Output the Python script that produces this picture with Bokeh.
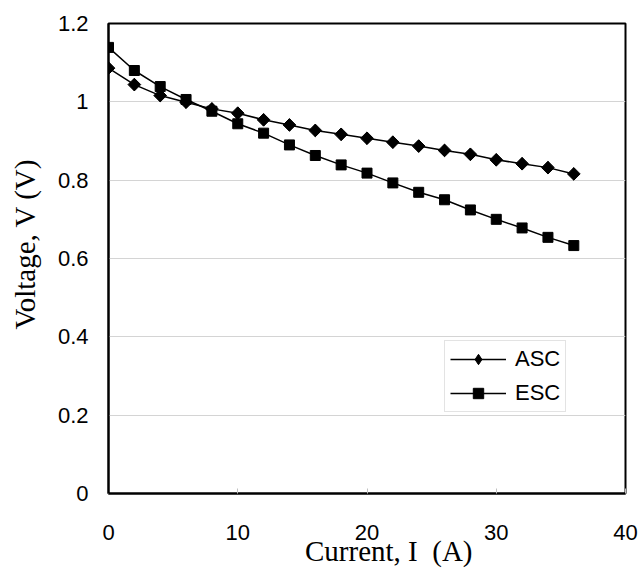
import math
from bokeh.plotting import figure
from bokeh.models import Range1d, FixedTicker, Legend, LegendItem
from bokeh.embed import file_html
from bokeh.resources import INLINE

# ---- data ----
current = [0, 2, 4, 6, 8, 10, 12, 14, 16, 18, 20, 22, 24, 26, 28, 30, 32, 34, 36]
asc_v = [1.086, 1.044, 1.016, 0.999, 0.982, 0.971, 0.954, 0.941, 0.927, 0.917,
         0.907, 0.897, 0.887, 0.876, 0.866, 0.852, 0.842, 0.832, 0.816]
esc_v = [1.139, 1.080, 1.039, 1.006, 0.976, 0.944, 0.920, 0.890, 0.863, 0.839,
         0.818, 0.793, 0.769, 0.750, 0.724, 0.700, 0.678, 0.654, 0.633]
x_ticks = [0, 10, 20, 30, 40]
x_tick_labels = ["0", "10", "20", "30", "40"]
y_ticks = [0, 0.2, 0.4, 0.6, 0.8, 1.0, 1.2]
y_tick_labels = ["0", "0.2", "0.4", "0.6", "0.8", "1", "1.2"]
series_names = ["ASC", "ESC"]
x_title = "Current, I\u00a0\u00a0(A)"
y_title = "Voltage, V (V)"

SANS = "Liberation Sans"
SERIF = "Liberation Serif"
NB = "\u00a0"

p = figure(width=640, height=569, output_backend="svg", toolbar_location=None,
           x_range=Range1d(0, 40), y_range=Range1d(0, 1.2),
           min_border_left=108, min_border_right=15, min_border_top=23, min_border_bottom=76)
p.background_fill_color = "white"
p.border_fill_color = "white"
p.outline_line_color = "black"
p.outline_line_width = 2

# axes
p.xaxis.ticker = FixedTicker(ticks=x_ticks)
p.yaxis.ticker = FixedTicker(ticks=y_ticks)
p.xaxis.major_label_overrides = {t: l for t, l in zip(x_ticks, x_tick_labels)}
p.yaxis.major_label_overrides = {t: l for t, l in zip(y_ticks, y_tick_labels)}
for ax in (p.xaxis[0], p.yaxis[0]):
    ax.axis_line_color = "black"
    ax.axis_line_width = 2
    ax.minor_tick_line_color = None
    ax.major_label_text_font = SANS
    ax.major_label_text_font_size = "22px"
    ax.major_label_text_color = "black"
    ax.major_tick_out = 0
    ax.axis_label_text_font = SERIF
    ax.axis_label_text_font_size = "29px"
    ax.axis_label_text_font_style = "normal"
    ax.axis_label_text_color = "black"
p.xaxis.major_tick_in = 5
p.xaxis.major_tick_line_color = "#c0c0c0"
p.xaxis.major_label_standoff = 31
p.xaxis.axis_label = NB * 6 + x_title
p.xaxis.axis_label_standoff = -8
p.yaxis.major_tick_in = 0
p.yaxis.major_tick_line_color = None
p.yaxis.major_label_standoff = 20
p.yaxis.axis_label = NB * 4 + y_title
p.yaxis.axis_label_standoff = 14

p.xgrid.visible = False
p.ygrid.ticker = FixedTicker(ticks=y_ticks)
p.ygrid.grid_line_color = "#d4d4d4"
p.ygrid.grid_line_width = 1

# series
asc_line = p.line(current, asc_v, line_color="black", line_width=1.5)
asc_leg = p.scatter(current, asc_v, marker="diamond", size=12,
                    fill_color="black", line_color="black")
p.scatter(current, asc_v, marker="square", angle=math.pi / 4, size=9,
          fill_color="black", line_color="black")
esc_line = p.line(current, esc_v, line_color="black", line_width=1.5)
esc_pts = p.scatter(current, esc_v, marker="square", size=10,
                    fill_color="black", line_color="black")

# legend
lg = Legend(items=[LegendItem(label=series_names[0], renderers=[asc_line, asc_leg]),
                   LegendItem(label=series_names[1], renderers=[esc_line, esc_pts])],
            location=(336, 81))
lg.border_line_color = "#c8c8c8"
lg.border_line_width = 1
lg.background_fill_color = "white"
lg.background_fill_alpha = 1
lg.label_text_font = SANS
lg.label_text_font_size = "22px"
lg.label_text_color = "black"
lg.padding = 5
lg.margin = 0
lg.spacing = 8
lg.label_height = 26
lg.glyph_height = 26
lg.glyph_width = 56
lg.label_standoff = 9
p.add_layout(lg)

open("out.html", "w").write(file_html(p, INLINE))
